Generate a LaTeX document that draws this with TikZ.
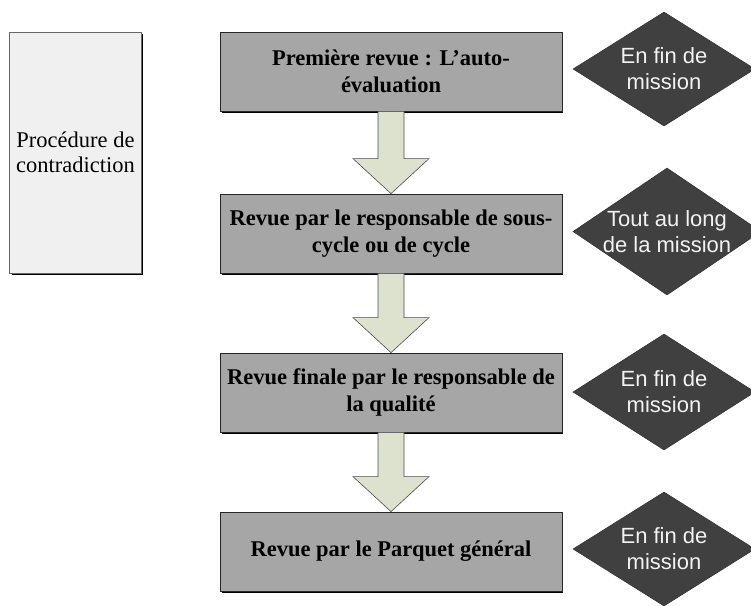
\documentclass[tikz,border=0pt]{standalone}
\usepackage{fontspec}
\setmainfont{Liberation Serif}
\newfontfamily\arialf{Liberation Sans}
\usetikzlibrary{shapes.geometric,calc}
\definecolor{boxgrey}{HTML}{A6A6A6}
\definecolor{leftfill}{HTML}{F0F0F0}
\definecolor{arrfill}{HTML}{DDE2CF}
\definecolor{diafill}{HTML}{404040}
\definecolor{diatext}{HTML}{F2F2F2}
\tikzset{
  stepbox/.style={draw=black!85, line width=0.8pt, fill=boxgrey, minimum width=342pt, minimum height=79pt,
    inner sep=0pt, align=center, font=\fontsize{22.5}{26.5}\selectfont\bfseries},
  sidebox/.style={draw=black!60, line width=0.8pt, fill=leftfill, minimum width=132pt, minimum height=241pt,
    inner sep=0pt, align=center, font=\fontsize{22.5}{25}\selectfont},
  dia/.style={diamond, draw=black!80, line width=0.6pt, fill=diafill, inner sep=0pt},
  diatxt/.style={align=center, text=diatext, font=\arialf\fontsize{22}{26}\selectfont, inner sep=0pt},
  blockarrow/.style={draw=black!70, line width=0.6pt, fill=arrfill},
}
\newcommand{\blockarr}[2]{%
  \path[blockarrow] ($(#1.south)+(-13,0)$) -- ($(#1.south)+(13,0)$) --
    ($(#2.north)+(13,-35)$) -- ($(#2.north)+(38,-35)$) -- (#2.north) --
    ($(#2.north)+(-38,-35)$) -- ($(#2.north)+(-13,-35)$) -- cycle;}
\begin{document}
\begin{tikzpicture}[x=1pt,y=-1pt]
\useasboundingbox (0,0) rectangle (751,605);
% left box with shadow
\fill[black] (11.5,33.5) rectangle (143,274.5);
\node[sidebox] (side) at (75.5,152.5) {Procédure de\\contradiction};
% step boxes
\fill[black] (222,33.5) rectangle (563,112.5);
\node[stepbox] (b1) at (391,71.5) {Première revue : L’auto-\\évaluation};
\fill[black] (222,195.5) rectangle (563,274.5);
\node[stepbox] (b2) at (391,233.5) {Revue par le responsable de sous-\\cycle ou de cycle};
\fill[black] (222,354.5) rectangle (563,433.5);
\node[stepbox] (b3) at (391,392.5) {Revue finale par le responsable de\\la qualité};
\fill[black] (222,513.5) rectangle (563,592.5);
\node[stepbox] (b4) at (391,551.5) {Revue par le Parquet général};
% block arrows
\blockarr{b1}{b2}
\blockarr{b2}{b3}
\blockarr{b3}{b4}
% diamonds
\node[dia, minimum width=182pt, minimum height=114pt] (d1) at (664,69) {};
\node[diatxt] (t1) at (d1.center) {En fin de\\mission};
\node[dia, minimum width=188pt, minimum height=127pt] (d2) at (667,231.5) {};
\node[diatxt] (t2) at (d2.center) {Tout au long\\de la mission};
\node[dia, minimum width=182pt, minimum height=116pt] (d3) at (664,392) {};
\node[diatxt] (t3) at (d3.center) {En fin de\\mission};
\node[dia, minimum width=182pt, minimum height=114pt] (d4) at (664,549) {};
\node[diatxt] (t4) at (d4.center) {En fin de\\mission};
\end{tikzpicture}
\end{document}
